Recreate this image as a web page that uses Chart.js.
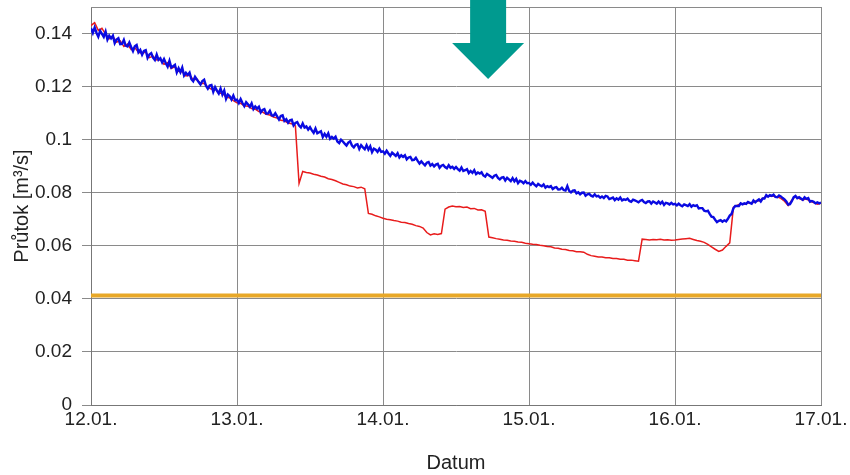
<!DOCTYPE html>
<html>
<head>
<meta charset="utf-8">
<script src="https://cdn.jsdelivr.net/npm/chart.js@4.4.1/dist/chart.umd.min.js"></script>
<style>
  html, body { margin: 0; padding: 0; background: #fff; }
  #wrap { width: 850px; height: 475px; }
</style>
</head>
<body>
<div id="wrap"><canvas id="flowChart" width="850" height="475"></canvas></div>
<script>
// x = days since 12.01.
var dayLabels = ['12.01.', '13.01.', '14.01.', '15.01.', '16.01.', '17.01.'];
var blueStep = 0.0125;   // blue: one reading every 0.0125 day
var redStep = 0.025;     // red: one reading every 0.025 day

var yTicks = [0, 0.02, 0.04, 0.06, 0.08, 0.1, 0.12, 0.14];
var yTickLabels = ['0', '0.02', '0.04', '0.06', '0.08', '0.1', '0.12', '0.14'];

// blue curve
var blueFlow = [
    0.1420, 0.1402, 0.1423, 0.1403, 0.1388, 0.1410, 0.1399, 0.1387, 0.1407, 0.1377,
    0.1392, 0.1382, 0.1392, 0.1364, 0.1377, 0.1382, 0.1360, 0.1361, 0.1376, 0.1354,
    0.1351, 0.1366, 0.1349, 0.1334, 0.1352, 0.1357, 0.1329, 0.1338, 0.1320, 0.1334,
    0.1337, 0.1308, 0.1321, 0.1326, 0.1309, 0.1300, 0.1321, 0.1301, 0.1307, 0.1291,
    0.1304, 0.1288, 0.1275, 0.1297, 0.1272, 0.1277, 0.1282, 0.1253, 0.1269, 0.1254,
    0.1272, 0.1242, 0.1252, 0.1244, 0.1253, 0.1228, 0.1220, 0.1237, 0.1227, 0.1217,
    0.1208, 0.1221, 0.1226, 0.1203, 0.1192, 0.1204, 0.1206, 0.1180, 0.1198, 0.1185,
    0.1174, 0.1193, 0.1170, 0.1185, 0.1154, 0.1170, 0.1164, 0.1151, 0.1166, 0.1149,
    0.1151, 0.1138, 0.1153, 0.1138, 0.1126, 0.1141, 0.1133, 0.1124, 0.1137, 0.1115,
    0.1125, 0.1117, 0.1124, 0.1103, 0.1112, 0.1115, 0.1098, 0.1099, 0.1109, 0.1092,
    0.1090, 0.1100, 0.1088, 0.1076, 0.1089, 0.1092, 0.1071, 0.1077, 0.1064, 0.1073,
    0.1075, 0.1054, 0.1063, 0.1066, 0.1053, 0.1046, 0.1061, 0.1046, 0.1050, 0.1038,
    0.1047, 0.1035, 0.1026, 0.1042, 0.1024, 0.1028, 0.1032, 0.1010, 0.1022, 0.1011,
    0.1024, 0.1003, 0.1010, 0.1004, 0.1011, 0.0993, 0.0987, 0.1000, 0.0993, 0.0985,
    0.0978, 0.0989, 0.0994, 0.0978, 0.0971, 0.0981, 0.0983, 0.0965, 0.0979, 0.0971,
    0.0964, 0.0979, 0.0963, 0.0975, 0.0953, 0.0966, 0.0962, 0.0954, 0.0966, 0.0954,
    0.0956, 0.0947, 0.0958, 0.0948, 0.0939, 0.0951, 0.0945, 0.0939, 0.0949, 0.0933,
    0.0941, 0.0935, 0.0941, 0.0926, 0.0933, 0.0935, 0.0923, 0.0924, 0.0932, 0.0920,
    0.0910, 0.0918, 0.0910, 0.0903, 0.0913, 0.0916, 0.0902, 0.0908, 0.0899, 0.0906,
    0.0909, 0.0894, 0.0902, 0.0905, 0.0897, 0.0892, 0.0904, 0.0894, 0.0898, 0.0890,
    0.0897, 0.0889, 0.0883, 0.0895, 0.0882, 0.0885, 0.0889, 0.0874, 0.0882, 0.0875,
    0.0885, 0.0870, 0.0876, 0.0872, 0.0877, 0.0865, 0.0861, 0.0871, 0.0866, 0.0861,
    0.0856, 0.0864, 0.0867, 0.0856, 0.0850, 0.0857, 0.0859, 0.0846, 0.0856, 0.0850,
    0.0844, 0.0855, 0.0843, 0.0852, 0.0836, 0.0845, 0.0842, 0.0836, 0.0844, 0.0836,
    0.0837, 0.0830, 0.0838, 0.0830, 0.0824, 0.0833, 0.0828, 0.0824, 0.0831, 0.0819,
    0.0825, 0.0821, 0.0825, 0.0814, 0.0819, 0.0821, 0.0812, 0.0813, 0.0819, 0.0810,
    0.0808, 0.0825, 0.0807, 0.0801, 0.0808, 0.0809, 0.0798, 0.0802, 0.0794, 0.0800,
    0.0801, 0.0789, 0.0794, 0.0796, 0.0789, 0.0786, 0.0794, 0.0786, 0.0788, 0.0781,
    0.0786, 0.0780, 0.0788, 0.0786, 0.0776, 0.0779, 0.0782, 0.0772, 0.0779, 0.0774,
    0.0782, 0.0771, 0.0775, 0.0773, 0.0778, 0.0769, 0.0766, 0.0774, 0.0771, 0.0768,
    0.0764, 0.0770, 0.0773, 0.0765, 0.0761, 0.0767, 0.0768, 0.0759, 0.0767, 0.0763,
    0.0759, 0.0767, 0.0759, 0.0766, 0.0754, 0.0762, 0.0760, 0.0756, 0.0762, 0.0756,
    0.0758, 0.0752, 0.0759, 0.0753, 0.0749, 0.0756, 0.0753, 0.0750, 0.0757, 0.0747,
    0.0753, 0.0750, 0.0753, 0.0741, 0.0742, 0.0742, 0.0732, 0.0730, 0.0732, 0.0720,
    0.0710, 0.0708, 0.0698, 0.0689, 0.0694, 0.0697, 0.0691, 0.0696, 0.0692, 0.0702,
    0.0714, 0.0720, 0.0741, 0.0750, 0.0750, 0.0750, 0.0760, 0.0756, 0.0760, 0.0758,
    0.0765, 0.0762, 0.0759, 0.0771, 0.0764, 0.0770, 0.0775, 0.0767, 0.0778, 0.0778,
    0.0791, 0.0785, 0.0791, 0.0788, 0.0793, 0.0784, 0.0783, 0.0790, 0.0786, 0.0780,
    0.0775, 0.0767, 0.0755, 0.0757, 0.0768, 0.0783, 0.0788, 0.0779, 0.0783, 0.0778,
    0.0773, 0.0783, 0.0777, 0.0780, 0.0766, 0.0769, 0.0766, 0.0760, 0.0764, 0.0760,
    0.0763
];

// red curve
var redFlow = [
    0.1430, 0.1441, 0.1412, 0.1420, 0.1397, 0.1380, 0.1389, 0.1368, 0.1372, 0.1351,
    0.1360, 0.1340, 0.1347, 0.1329, 0.1326, 0.1330, 0.1309, 0.1315, 0.1300, 0.1302,
    0.1284, 0.1290, 0.1268, 0.1275, 0.1258, 0.1256, 0.1240, 0.1243, 0.1226, 0.1228,
    0.1211, 0.1213, 0.1198, 0.1190, 0.1193, 0.1174, 0.1176, 0.1160, 0.1158, 0.1147,
    0.1139, 0.1137, 0.1128, 0.1126, 0.1117, 0.1115, 0.1106, 0.1104, 0.1096, 0.1093,
    0.1085, 0.1082, 0.1073, 0.1071, 0.1063, 0.1060, 0.1052, 0.0835, 0.0880, 0.0876,
    0.0874, 0.0870, 0.0867, 0.0862, 0.0859, 0.0853, 0.0850, 0.0845, 0.0839, 0.0833,
    0.0830, 0.0825, 0.0823, 0.0818, 0.0821, 0.0815, 0.0722, 0.0719, 0.0713, 0.0709,
    0.0704, 0.0700, 0.0698, 0.0695, 0.0693, 0.0689, 0.0688, 0.0684, 0.0681, 0.0676,
    0.0673, 0.0667, 0.0650, 0.0641, 0.0645, 0.0643, 0.0646, 0.0738, 0.0746, 0.0750,
    0.0747, 0.0748, 0.0744, 0.0746, 0.0740, 0.0741, 0.0735, 0.0736, 0.0730, 0.0633,
    0.0630, 0.0627, 0.0625, 0.0622, 0.0621, 0.0618, 0.0617, 0.0614, 0.0613, 0.0610,
    0.0608, 0.0606, 0.0605, 0.0602, 0.0600, 0.0597, 0.0596, 0.0592, 0.0591, 0.0587,
    0.0586, 0.0582, 0.0581, 0.0578, 0.0578, 0.0576, 0.0568, 0.0563, 0.0561, 0.0558,
    0.0558, 0.0555, 0.0555, 0.0552, 0.0552, 0.0549, 0.0549, 0.0546, 0.0546, 0.0544,
    0.0542, 0.0625, 0.0624, 0.0622, 0.0624, 0.0623, 0.0625, 0.0622, 0.0623, 0.0621,
    0.0622, 0.0624, 0.0626, 0.0627, 0.0628, 0.0624, 0.0620, 0.0617, 0.0613, 0.0605,
    0.0596, 0.0587, 0.0579, 0.0584, 0.0598, 0.0611, 0.0745, 0.0752, 0.0758, 0.0757,
    0.0762, 0.0760, 0.0768, 0.0770, 0.0778, 0.0786, 0.0788, 0.0787, 0.0785, 0.0779,
    0.0768, 0.0752, 0.0772, 0.0787, 0.0778, 0.0773, 0.0777, 0.0768, 0.0763, 0.0757,
    0.0760
];

// orange limit line
var limitFlow = 0.0413;
// where the teal arrow points (days since 12.01.)
var arrowDay = 2.72;

function toPoints(values, step) {
    return values.map(function (v, i) { return { x: i * step, y: v }; });
}

var framePlugin = {
    id: 'frame',
    beforeDatasetsDraw: function (chart) {
        var a = chart.chartArea, ctx = chart.ctx;
        ctx.save();
        ctx.strokeStyle = '#8a8a8a';
        ctx.lineWidth = 1;
        ctx.beginPath();
        ctx.moveTo(a.left, a.top + 0.5);
        ctx.lineTo(a.right, a.top + 0.5);
        ctx.stroke();
        ctx.restore();
    }
};

var arrowPlugin = {
    id: 'arrow',
    afterDraw: function (chart) {
        var ctx = chart.ctx;
        var cx = chart.scales.x.getPixelForValue(arrowDay);
        ctx.save();
        ctx.fillStyle = '#009a8f';
        ctx.beginPath();
        ctx.moveTo(cx - 18, 0);
        ctx.lineTo(cx + 18, 0);
        ctx.lineTo(cx + 18, 43);
        ctx.lineTo(cx + 36, 43);
        ctx.lineTo(cx, 79);
        ctx.lineTo(cx - 36, 43);
        ctx.lineTo(cx - 18, 43);
        ctx.closePath();
        ctx.fill();
        ctx.restore();
    }
};

var ctx = document.getElementById('flowChart').getContext('2d');
var chart = new Chart(ctx, {
    type: 'line',
    data: {
        datasets: [{
            label: 'blue',
            data: toPoints(blueFlow, blueStep),
            borderColor: 'rgb(10, 10, 225)',
            borderWidth: 2.4
        }, {
            label: 'red',
            data: toPoints(redFlow, redStep),
            borderColor: 'rgb(232, 28, 28)',
            borderWidth: 1.5
        }, {
            label: 'limit',
            data: [{ x: 0, y: limitFlow }, { x: dayLabels.length - 1, y: limitFlow }],
            borderColor: 'rgb(232, 168, 40)',
            borderWidth: 4
        }]
    },
    options: {
        responsive: false,
        animation: false,
        layout: { padding: { left: 0, right: 29, top: 7, bottom: 0 } },
        elements: { point: { radius: 0 }, line: { tension: 0 } },
        plugins: { legend: { display: false }, tooltip: { enabled: false } },
        scales: {
            x: {
                type: 'linear',
                min: 0,
                max: dayLabels.length - 1,
                afterFit: function (s) { s.height = 70; s.paddingLeft = 0; s.paddingRight = 0; },
                ticks: {
                    stepSize: 1,
                    padding: 3,
                    color: '#222',
                    font: { family: 'Liberation Sans', size: 19 },
                    callback: function (v) { return dayLabels[Math.round(v)]; }
                },
                grid: { color: '#8a8a8a', drawTicks: false },
                border: { color: '#777' },
                title: {
                    display: true,
                    text: 'Datum',
                    color: '#222',
                    font: { family: 'Liberation Sans', size: 20 },
                    padding: { top: 0, bottom: 0 }
                }
            },
            y: {
                min: 0,
                max: 0.15,
                afterFit: function (s) { s.width = 91; s.paddingTop = 0; s.paddingBottom = 0; },
                afterBuildTicks: function (s) {
                    s.ticks = yTicks.map(function (v) { return { value: v }; });
                },
                ticks: {
                    padding: 10,
                    color: '#222',
                    font: { family: 'Liberation Sans', size: 19 },
                    callback: function (v) { return yTickLabels[Math.round(v / 0.02)]; }
                },
                grid: { color: '#8a8a8a', tickLength: 9 },
                border: { color: '#777' },
                title: {
                    display: true,
                    text: 'Průtok [m³/s]',
                    color: '#222',
                    font: { family: 'Liberation Sans', size: 20 },
                    padding: { top: 10, bottom: 0 }
                }
            }
        }
    },
    plugins: [framePlugin, arrowPlugin]
});
</script>
</body>
</html>
